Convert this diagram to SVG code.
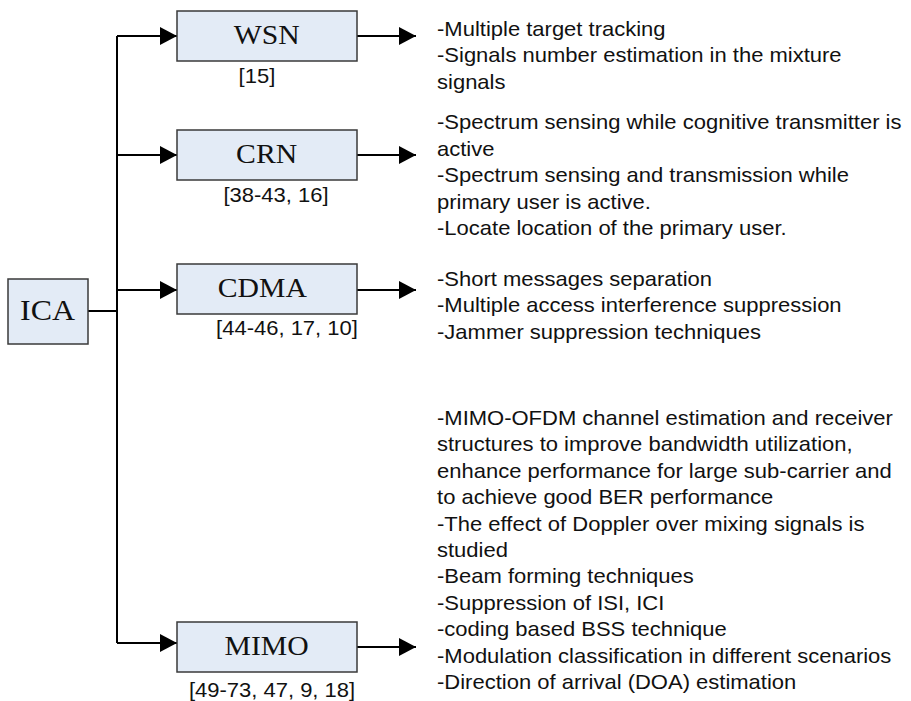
<svg xmlns="http://www.w3.org/2000/svg" width="911" height="701" viewBox="0 0 911 701">
<style>
.box{fill:#e3ebf6;stroke:#3a3a3a;stroke-width:1.5}
.bt{font-family:"Liberation Serif","Times New Roman",serif;font-size:27px;fill:#111;text-anchor:middle}
.ref{font-family:"Liberation Sans",Arial,sans-serif;font-size:20px;fill:#111;text-anchor:middle}
.desc{font-family:"Liberation Sans",Arial,sans-serif;font-size:20px;fill:#111}
.ln{stroke:#000;stroke-width:2;fill:none}
</style>
<defs>
<marker id="ah" markerUnits="userSpaceOnUse" markerWidth="18" markerHeight="18" refX="17" refY="9" orient="auto">
<path d="M0,0 L17,9 L0,18 z" fill="#000"/>
</marker>
</defs>
<g id="connectors">
<path class="ln" d="M88,311 H117"/>
<path class="ln" d="M117,36 V643"/>
<path class="ln" d="M117,36 H177" marker-end="url(#ah)"/>
<path class="ln" d="M117,155 H177" marker-end="url(#ah)"/>
<path class="ln" d="M117,290 H177" marker-end="url(#ah)"/>
<path class="ln" d="M117,643 H177" marker-end="url(#ah)"/>
<path class="ln" d="M357,36 H416" marker-end="url(#ah)"/>
<path class="ln" d="M357,155 H416" marker-end="url(#ah)"/>
<path class="ln" d="M357,290 H416" marker-end="url(#ah)"/>
<path class="ln" d="M357,647 H416" marker-end="url(#ah)"/>
</g>
<g id="ICA">
<rect class="box" x="8" y="279" width="80" height="65"/>
<text class="bt" transform="scale(1.1,1)" x="43.2" y="320" style="font-size:29px">ICA</text>
</g>
<g id="WSN">
<rect class="box" x="177" y="11" width="180" height="50"/>
<text class="bt" transform="scale(1.1,1)" x="242.5" y="44">WSN</text>
<text class="ref" transform="scale(1.1,1)" x="233.6" y="83">[15]</text>
</g>
<g id="CRN">
<rect class="box" x="177" y="130" width="180" height="50"/>
<text class="bt" transform="scale(1.1,1)" x="242.4" y="163">CRN</text>
<text class="ref" transform="scale(1.1,1)" x="250.9" y="202">[38-43, 16]</text>
</g>
<g id="CDMA">
<rect class="box" x="177" y="264" width="180" height="50"/>
<text class="bt" transform="scale(1.1,1)" x="238.5" y="297">CDMA</text>
<text class="ref" transform="scale(1.1,1)" x="260.9" y="335">[44-46, 17, 10]</text>
</g>
<g id="MIMO">
<rect class="box" x="177" y="622" width="180" height="50"/>
<text class="bt" transform="scale(1.1,1)" x="242.4" y="655">MIMO</text>
<text class="ref" transform="scale(1.1,1)" x="247.3" y="697">[49-73, 47, 9, 18]</text>
</g>
<g id="WSN-desc">
<text class="desc" transform="scale(1.1,1)" x="397.3" y="36">-Multiple target tracking</text>
<text class="desc" transform="scale(1.1,1)" x="397.3" y="62.5">-Signals number estimation in the mixture</text>
<text class="desc" transform="scale(1.1,1)" x="397.3" y="89">signals</text>
</g>
<g id="CRN-desc">
<text class="desc" transform="scale(1.1,1)" x="397.3" y="129.3">-Spectrum sensing while cognitive transmitter is</text>
<text class="desc" transform="scale(1.1,1)" x="397.3" y="155.8">active</text>
<text class="desc" transform="scale(1.1,1)" x="397.3" y="182.3">-Spectrum sensing and transmission while</text>
<text class="desc" transform="scale(1.1,1)" x="397.3" y="208.8">primary user is active.</text>
<text class="desc" transform="scale(1.1,1)" x="397.3" y="235.3">-Locate location of the primary user.</text>
</g>
<g id="CDMA-desc">
<text class="desc" transform="scale(1.1,1)" x="397.3" y="286">-Short messages separation</text>
<text class="desc" transform="scale(1.1,1)" x="397.3" y="312.5">-Multiple access interference suppression</text>
<text class="desc" transform="scale(1.1,1)" x="397.3" y="339">-Jammer suppression techniques</text>
</g>
<g id="MIMO-desc">
<text class="desc" transform="scale(1.1,1)" x="397.3" y="425">-MIMO-OFDM channel estimation and receiver</text>
<text class="desc" transform="scale(1.1,1)" x="397.3" y="451.4">structures to improve bandwidth utilization,</text>
<text class="desc" transform="scale(1.1,1)" x="397.3" y="477.8">enhance performance for large sub-carrier and</text>
<text class="desc" transform="scale(1.1,1)" x="397.3" y="504.2">to achieve good BER performance</text>
<text class="desc" transform="scale(1.1,1)" x="397.3" y="530.6">-The effect of Doppler over mixing signals is</text>
<text class="desc" transform="scale(1.1,1)" x="397.3" y="557">studied</text>
<text class="desc" transform="scale(1.1,1)" x="397.3" y="583.4">-Beam forming techniques</text>
<text class="desc" transform="scale(1.1,1)" x="397.3" y="609.8">-Suppression of ISI, ICI</text>
<text class="desc" transform="scale(1.1,1)" x="397.3" y="636.2">-coding based BSS technique</text>
<text class="desc" transform="scale(1.1,1)" x="397.3" y="662.6">-Modulation classification in different scenarios</text>
<text class="desc" transform="scale(1.1,1)" x="397.3" y="689">-Direction of arrival (DOA) estimation</text>
</g>
</svg>
